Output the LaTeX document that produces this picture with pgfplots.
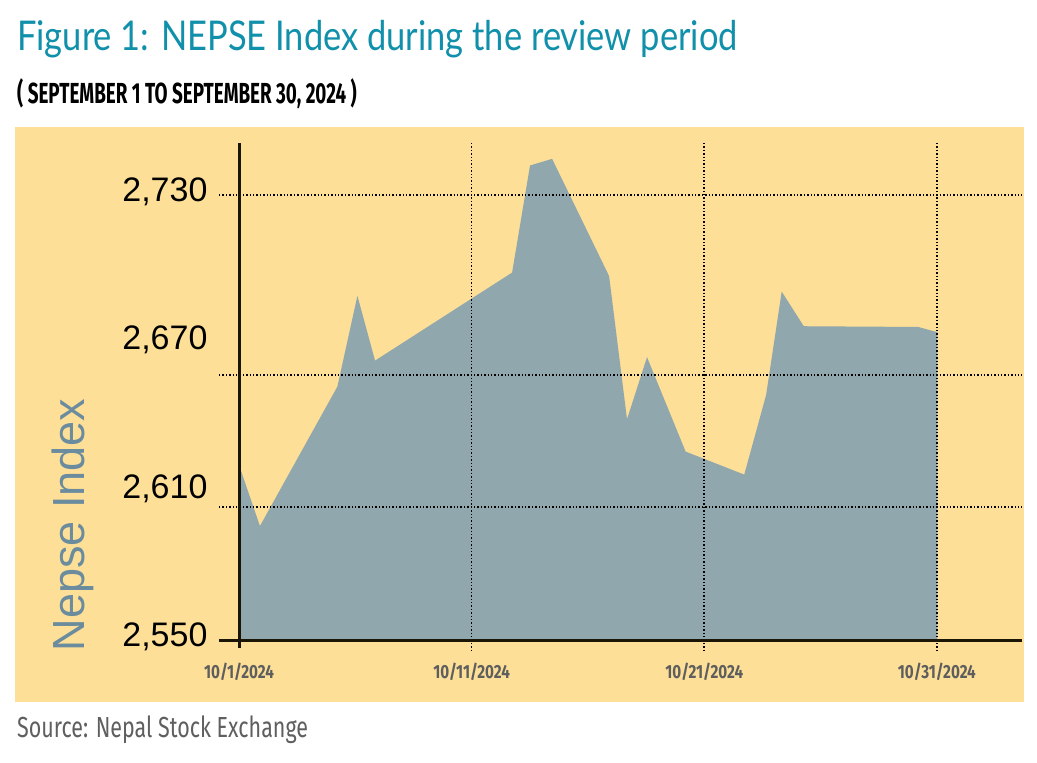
\documentclass[border=0pt]{standalone}
\usepackage{pgfplots}
\pgfplotsset{compat=1.18}
\usepackage{fontspec}
\setmainfont{Liberation Sans}
\newfontfamily\titlefont{Lato}[FakeStretch=0.84]
\newfontfamily\subfont{Fira Sans}[FakeStretch=0.65]
\newfontfamily\xfont{Fira Sans}[FakeStretch=0.8]
\newfontfamily\srcfont{Fira Sans}[FakeStretch=0.74]
\definecolor{panel}{HTML}{FDDF97}
\definecolor{areacol}{HTML}{91A7AE}
\definecolor{titleteal}{HTML}{1090AA}
\definecolor{ylabcol}{HTML}{6A8C9E}
\definecolor{xlabgray}{HTML}{5E5E5E}
\definecolor{srcgray}{HTML}{5F5F5F}
\definecolor{axisblack}{HTML}{1A1505}
\tikzset{gridline/.style={black, line width=1.6pt, dash pattern=on 1.4pt off 2pt}}
\pgfplotstableread{
day value
1.00 2620.8
1.90 2596.1
5.23 2652.5
6.09 2689.2
6.85 2663.0
12.74 2698.6
13.51 2741.9
14.46 2744.6
16.91 2697.2
17.68 2639.3
18.54 2664.4
20.20 2626.2
22.72 2616.9
23.66 2649.1
24.33 2690.9
25.28 2676.9
30.20 2676.6
31.02 2674.5
}\nepse
\begin{document}
\begin{tikzpicture}
\fill[white] (0pt,0pt) rectangle (1037pt,-763pt);
\fill[panel] (15pt,-127pt) rectangle (1024pt,-702pt);
\node[anchor=base west, inner sep=0, text=titleteal, font=\titlefont\fontsize{41}{41}\selectfont] at (17pt,-50pt) {Figure 1: NEPSE Index during the review period};
\node[anchor=base west, inner sep=0, font=\subfont\bfseries\fontsize{29}{29}\selectfont] at (17pt,-103pt) {( SEPTEMBER 1 TO SEPTEMBER 30, 2024 )};
\node[anchor=base west, inner sep=0, text=srcgray, font=\srcfont\fontsize{29}{29}\selectfont] at (17pt,-737pt) {Source: Nepal Stock Exchange};
\node[rotate=90, inner sep=0, text=ylabcol, font=\fontsize{45}{45}\selectfont] at (73pt,-525pt) {Nepse Index};
\begin{axis}[
  at={(239pt,-640pt)}, anchor=south west,
  scale only axis, width=783pt, height=497pt,
  xmin=1, xmax=34.66, ymin=2550, ymax=2751,
  clip=false, axis on top,
  axis x line*=bottom, axis y line*=left,
  axis line style={line width=3pt, draw=axisblack},
  xtick={1,11,21,31},
  xticklabels={10/1/2024,10/11/2024,10/21/2024,10/31/2024},
  xticklabel style={font=\xfont\bfseries\fontsize{19}{19}\selectfont, text=xlabgray, yshift=-19pt},
  ytick={2550,2610,2670,2730},
  yticklabels={{2,550},{2,610},{2,670},{2,730}},
  tick style={draw=none},
  yticklabel style={font=\fontsize{34}{34}\selectfont, text=black, anchor=east, xshift=-28pt, yshift=3pt},
]
\addplot[fill=areacol, draw=none] table[x=day, y=value] {\nepse} \closedcycle;
% dotted grid lines
\draw[gridline] (axis cs:0.14,2730) -- (axis cs:34.66,2730);
\draw[gridline] (axis cs:0.14,2657.2) -- (axis cs:34.66,2657.2);
\draw[gridline] (axis cs:0.14,2603.8) -- (axis cs:34.66,2603.8);
\draw[gridline] (axis cs:11,2751) -- (axis cs:11,2545.1);
\draw[gridline] (axis cs:21,2751) -- (axis cs:21,2545.1);
\draw[gridline] (axis cs:31,2751) -- (axis cs:31,2545.1);
% axis line extensions
\draw[line width=3pt, axisblack] (axis cs:1,2550) -- (axis cs:0.14,2550);
\draw[line width=3pt, axisblack] (axis cs:1,2551) -- (axis cs:1,2546.8);
\end{axis}
\end{tikzpicture}
\end{document}
